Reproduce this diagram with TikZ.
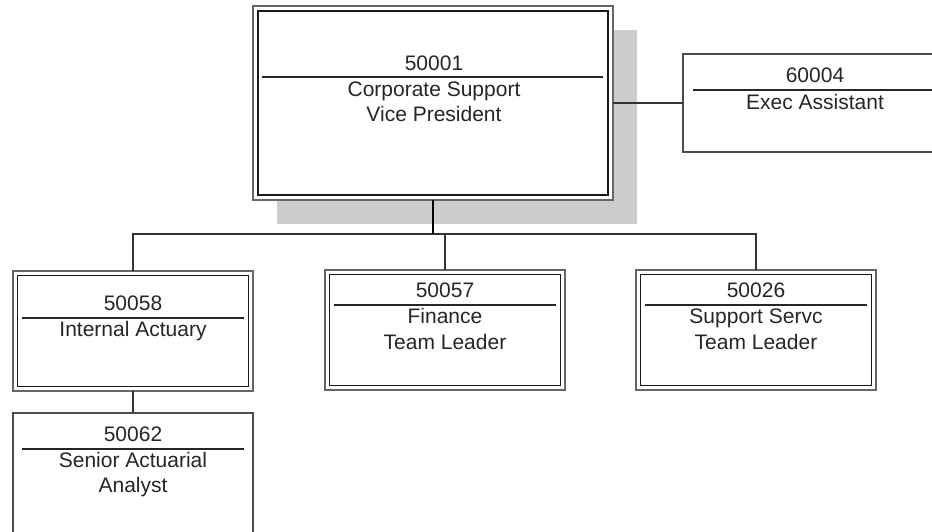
\documentclass[tikz,border=0pt]{standalone}
\usepackage{fontspec}
\setmainfont{Liberation Sans}
\begin{document}
\begin{tikzpicture}[x=1pt,y=-1pt,
  boxouter/.style={draw=black!60, line width=1.8pt, fill=white, rectangle, outer sep=0pt, inner sep=0pt, anchor=north west},
  plainbox/.style={draw=black!70, line width=1.5pt, fill=white, rectangle, outer sep=0pt, inner sep=0pt, anchor=north west},
  innerframe/.style={draw=black!90, line width=1.5pt},
  hdrline/.style={draw=black!85, line width=1.4pt},
  conn/.style={draw=black!80, line width=1.3pt},
  thickconn/.style={draw=black, line width=2.6pt},
  shadowbox/.style={fill=black!20, draw=none},
  lbl/.style={anchor=base, inner sep=0pt, text=black!85, font=\fontsize{21}{25}\selectfont}
]
\useasboundingbox (0,0) rectangle (932,531);
\clip (0,0) rectangle (932,531);
\fill[white] (0,0) rectangle (932,531);

% shadow of top box
\fill[shadowbox] (277,30) rectangle (637,224);

% top box
\node[boxouter, minimum width=360pt, minimum height=194pt] (T) at (253,6) {};
\draw[innerframe] ([shift={(5,5)}]T.north west) rectangle ([shift={(-5,-5)}]T.south east);
\draw[hdrline] (262,77) -- (603,77);
\node[lbl] (T1) at (434,70.5) {50001};
\node[lbl] (T2) at (434,96) {Corporate Support};
\node[lbl] (T3) at (434,121.5) {Vice President};

% exec assistant
\node[plainbox, minimum width=267pt, minimum height=98pt] (E) at (683,54) {};
\draw[hdrline] (693,90) -- (940,90);
\node[lbl] (E1) at (815,82.5) {60004};
\node[lbl] (E2) at (815,109) {Exec Assistant};

% 50058
\node[boxouter, minimum width=240pt, minimum height=120pt] (A) at (13,271) {};
\draw[innerframe] ([shift={(4.5,4.5)}]A.north west) rectangle ([shift={(-4.5,-4.5)}]A.south east);
\draw[hdrline] (22,318) -- (244,318);
\node[lbl] (A1) at (133,310.5) {50058};
\node[lbl] (A2) at (133,336.5) {Internal Actuary};

% 50057
\node[boxouter, minimum width=240pt, minimum height=120pt] (F) at (325,270) {};
\draw[innerframe] ([shift={(4.5,4.5)}]F.north west) rectangle ([shift={(-4.5,-4.5)}]F.south east);
\draw[hdrline] (334,305) -- (556,305);
\node[lbl] (F1) at (445,297.5) {50057};
\node[lbl] (F2) at (445,323.5) {Finance};
\node[lbl] (F3) at (445,349) {Team Leader};

% 50026
\node[boxouter, minimum width=240pt, minimum height=120pt] (S) at (636,270) {};
\draw[innerframe] ([shift={(4.5,4.5)}]S.north west) rectangle ([shift={(-4.5,-4.5)}]S.south east);
\draw[hdrline] (645,305) -- (867,305);
\node[lbl] (S1) at (756,297.5) {50026};
\node[lbl] (S2) at (756,323.5) {Support Servc};
\node[lbl] (S3) at (756,349) {Team Leader};

% 50062
\node[plainbox, minimum width=240pt, minimum height=125pt] (N) at (13,413) {};
\draw[hdrline] (22,449) -- (244,449);
\node[lbl] (N1) at (133,441.5) {50062};
\node[lbl] (N2) at (133,467.5) {Senior Actuarial};
\node[lbl] (N3) at (133,492.5) {Analyst};

% connectors
\coordinate (bus) at (433,234);
\draw[conn] (A.north) |- (bus);
\draw[conn] (F.north) |- (bus);
\draw[conn] (S.north) |- (bus);
\draw[thickconn] (T.south) -- (bus);
\draw[conn] (T.east) -- (E.west);
\draw[conn] (A.south) -- (N.north);
\end{tikzpicture}
\end{document}
